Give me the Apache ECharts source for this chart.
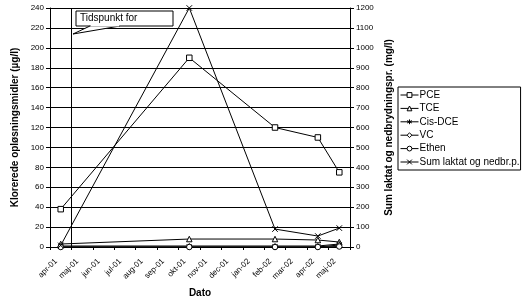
<!DOCTYPE html>
<html><head><meta charset="utf-8">
<script src="https://cdn.jsdelivr.net/npm/echarts@6/dist/echarts.min.js"></script>
<style>html,body{margin:0;padding:0;background:#fff}#c{width:528px;height:297px}</style>
</head><body><div id="c"></div>
<script>
const months = ['apr-01','maj-01','jun-01','jul-01','aug-01','sep-01','okt-01','nov-01','dec-01','jan-02','feb-02','mar-02','apr-02','maj-02'];
const sampleX = [0.5, 6.5, 10.5, 12.5, 13.5];
const pce = [38, 190, 120, 110, 75];
const tce = [3, 8, 8, 7, 5];
const cisDce = [1, 1, 1, 1, 3];
const vc = [0, 0, 0, 0, 2];
const ethen = [0, 0, 0, 0, 0.5];
const sumLaktat = [8, 1200, 90, 55, 95];
const eventX = 1; // maj-01

const F = 'Liberation Sans, Arial, sans-serif';
const pair = v => v.map((y, i) => [sampleX[i], y]);
const base = (name, data, symbol, yAxisIndex) => ({
  name, type: 'line', data: pair(data), yAxisIndex: yAxisIndex || 0,
  symbol, symbolSize: 5.5, showAllSymbol: true,
  lineStyle: { color: '#000', width: 1 },
  itemStyle: { color: '#fff', borderColor: '#000', borderWidth: 1 },
  emphasis: { disabled: true }, animation: false, z: 3
});
const ast = 'path://M0,-5L0,5M-4.3,-2.5L4.3,2.5M-4.3,2.5L4.3,-2.5';
const xm = 'path://M-4,-4L4,4M-4,4L4,-4';

const series = [
  base('PCE', pce, 'rect'),
  base('TCE', tce, 'triangle'),
  base('Cis-DCE', cisDce, ast),
  base('VC', vc, 'diamond'),
  base('Ethen', ethen, 'circle'),
  base('Sum laktat og nedbr.p.', sumLaktat, xm, 1)
];
series[0].markLine = {
  silent: true, symbol: 'none', animation: false,
  lineStyle: { color: '#000', width: 1, type: 'solid' },
  label: { show: false },
  data: [{ xAxis: eventX }]
};

const labelShift = 0.28;
const labelPos = months.map((m, i) => i + labelShift);

const chart = echarts.init(document.getElementById('c'));
chart.setOption({
  backgroundColor: '#fff',
  animation: false,
  textStyle: { fontFamily: F },
  grid: { left: 50, right: 178, top: 8, bottom: 50, containLabel: false, outerBoundsMode: 'none' },
  legend: {
    orient: 'vertical', left: 398, top: 87,
    itemWidth: 18, itemHeight: 6, itemGap: 3.4,
    padding: [3, 1, 3, 2],
    borderColor: '#000', borderWidth: 1, borderRadius: 0,
    itemStyle: { color: '#fff', borderColor: '#000', borderWidth: 1 },
    lineStyle: { color: '#000', width: 1 },
    textStyle: { fontFamily: F, fontSize: 10, color: '#000', padding: [0, 0, 0, -4] },
    data: series.map(s => s.name)
  },
  xAxis: {
    type: 'value', min: 0, max: 14, interval: 1,
    name: 'Dato', nameLocation: 'middle', nameGap: 39,
    nameTextStyle: { fontFamily: F, fontSize: 10, fontWeight: 'bold', color: '#000' },
    axisLine: { onZero: false, lineStyle: { color: '#000', width: 1 } },
    axisTick: { show: true, length: 3, lineStyle: { color: '#000' } },
    splitLine: { show: false },
    axisLabel: {
      rotate: 45, fontSize: 8, color: '#000', fontFamily: F, margin: 13,
      customValues: labelPos,
      formatter: v => months[Math.floor(v)] || ''
    }
  },
  yAxis: [
    {
      type: 'value', min: 0, max: 240, interval: 20,
      name: 'Klorerede opløsningsmidler (µg/l)', nameLocation: 'middle', nameGap: 30,
      nameTextStyle: { fontFamily: F, fontSize: 10, fontWeight: 'bold', color: '#000' },
      axisLine: { show: true, lineStyle: { color: '#000' } },
      axisTick: { show: true, length: 4, lineStyle: { color: '#000' } },
      splitLine: { show: true, lineStyle: { color: '#000', width: 1 } },
      axisLabel: { fontSize: 8, color: '#000', fontFamily: F, margin: 6 }
    },
    {
      type: 'value', min: 0, max: 1200, interval: 100, position: 'right',
      name: 'Sum laktat og nedbrydningspr. (mg/l)', nameLocation: 'middle', nameGap: 24, nameRotate: 90,
      nameTextStyle: { fontFamily: F, fontSize: 10, fontWeight: 'bold', color: '#000' },
      axisLine: { show: true, lineStyle: { color: '#000' } },
      axisTick: { show: true, length: 4, lineStyle: { color: '#000' } },
      splitLine: { show: false },
      axisLabel: { fontSize: 8, color: '#000', fontFamily: F, margin: 6, formatter: v => String(v) }
    }
  ],
  graphic: [
    { type: 'rect', shape: { x: 76, y: 11, width: 97, height: 15 }, style: { fill: '#fff', stroke: '#000', lineWidth: 1 }, z: 10 },
    { type: 'polygon', shape: { points: [[73, 34], [90, 26], [120, 26]] }, style: { fill: '#fff', stroke: '#000', lineWidth: 1 }, z: 11 },
    { type: 'rect', shape: { x: 90.5, y: 25, width: 29, height: 1.5 }, style: { fill: '#fff' }, z: 12 },
    { type: 'text', style: { x: 80, y: 13, text: 'Tidspunkt for', font: '10px ' + F, fill: '#000' }, z: 12 }
  ],
  series
});
</script></body></html>
